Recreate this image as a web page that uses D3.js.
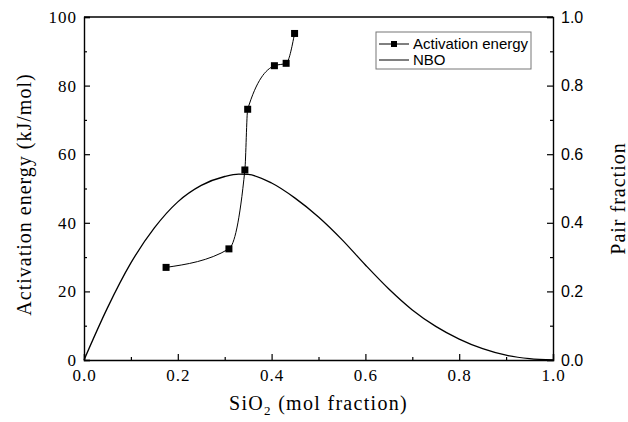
<!DOCTYPE html>
<html>
<head>
<meta charset="utf-8">
<script src="https://cdn.jsdelivr.net/npm/d3@7"></script>
<style>
  body { margin: 0; background: #fff; }
  svg { display: block; }
</style>
</head>
<body>
<div id="chart"></div>
<script>
// Activation energy (left axis)
const eaSiO2 = [0.175, 0.309, 0.343, 0.349, 0.406, 0.431, 0.449];
const eaValues = [27.0, 32.4, 55.4, 73.1, 85.8, 86.5, 95.2];

// NBO pair fraction (right axis)
const nboSiO2 = [0, 0.05, 0.10, 0.15, 0.20, 0.25, 0.30, 0.33, 0.35, 0.40, 0.45, 0.50, 0.55, 0.60, 0.65, 0.70, 0.75, 0.80, 0.85, 0.90, 0.95, 1.0];
const nboFraction = [0, 0.152, 0.283, 0.385, 0.461, 0.509, 0.535, 0.542, 0.541, 0.516, 0.472, 0.417, 0.351, 0.277, 0.207, 0.146, 0.098, 0.061, 0.033, 0.014, 0.004, 0];

// tick labels
const xTickValues = [0, 0.2, 0.4, 0.6, 0.8, 1.0];
const xTickLabels = ["0.0", "0.2", "0.4", "0.6", "0.8", "1.0"];
const yLeftTicks = [0, 20, 40, 60, 80, 100];
const yRightTicks = [0, 0.2, 0.4, 0.6, 0.8, 1.0];
const yRightLabels = ["0.0", "0.2", "0.4", "0.6", "0.8", "1.0"];

const W = 628, H = 422;
const margin = { top: 17, right: 75, bottom: 62, left: 84 };
const width = W - margin.left - margin.right,
      height = H - margin.top - margin.bottom;

const svg = d3.select("#chart").append("svg")
    .attr("width", W)
    .attr("height", H);

const g = svg.append("g")
    .attr("transform", `translate(${margin.left},${margin.top})`);

const x = d3.scaleLinear().domain([0, 1]).range([0, width]);
const yL = d3.scaleLinear().domain([0, 100]).range([height, 0]);
const yR = d3.scaleLinear().domain([0, 1]).range([height, 0]);

const serif = "Liberation Serif";
const sans = "Liberation Sans";

// minor ticks (inward)
const minorX = d3.range(0.1, 1, 0.2);
g.append("g")
    .attr("transform", `translate(0,${height})`)
    .call(d3.axisBottom(x).tickValues(minorX).tickSize(-3).tickFormat(""))
    .call(a => a.select(".domain").remove());
g.append("g")
    .call(d3.axisLeft(yL).tickValues(d3.range(10, 100, 20)).tickSize(-3).tickFormat(""))
    .call(a => a.select(".domain").remove());
g.append("g")
    .attr("transform", `translate(${width},0)`)
    .call(d3.axisRight(yR).tickValues(d3.range(0.1, 1, 0.2)).tickSize(-3).tickFormat(""))
    .call(a => a.select(".domain").remove());

// major axes
const xAxis = g.append("g")
    .attr("transform", `translate(0,${height})`)
    .call(d3.axisBottom(x).tickValues(xTickValues).tickSize(-6).tickPadding(9)
        .tickFormat((d, i) => xTickLabels[i]))
    .attr("font-family", serif)
    .attr("font-size", 17);
xAxis.selectAll("text")
    .style("letter-spacing", "1px")
    .attr("fill", "#000");

const yAxisL = g.append("g")
    .call(d3.axisLeft(yL).tickValues(yLeftTicks).tickSize(-6).tickPadding(7))
    .attr("font-family", serif)
    .attr("font-size", 17);
yAxisL.selectAll("text")
    .style("letter-spacing", "1px")
    .attr("fill", "#000");

const yAxisR = g.append("g")
    .attr("transform", `translate(${width},0)`)
    .call(d3.axisRight(yR).tickValues(yRightTicks).tickSize(-6).tickPadding(8)
        .tickFormat((d, i) => yRightLabels[i]))
    .attr("font-family", sans)
    .attr("font-size", 16);
yAxisR.selectAll("text")
    .attr("fill", "#000");

g.selectAll(".domain").attr("stroke-width", 1.4);
g.selectAll(".tick line").attr("stroke-width", 1.2);

// top frame line
g.append("line")
    .attr("x1", 0).attr("x2", width).attr("y1", 0).attr("y2", 0)
    .attr("stroke", "#000").attr("stroke-width", 1.4);

// NBO curve
const nboData = nboSiO2.map((v, i) => ({ x: v, y: nboFraction[i] }));
g.append("path")
    .datum(nboData)
    .attr("fill", "none")
    .attr("stroke", "#000")
    .attr("stroke-width", 1.3)
    .attr("d", d3.line().x(d => x(d.x)).y(d => yR(d.y)).curve(d3.curveMonotoneX));

// activation energy
const eaData = eaSiO2.map((v, i) => ({ x: v, y: eaValues[i] }));
g.append("path")
    .datum(eaData)
    .attr("fill", "none")
    .attr("stroke", "#000")
    .attr("stroke-width", 1)
    .attr("d", d3.line().x(d => x(d.x)).y(d => yL(d.y)).curve(d3.curveMonotoneX));

const ms = 7;
g.selectAll(".pt")
    .data(eaData)
    .enter()
    .append("rect")
    .attr("class", "pt")
    .attr("x", d => x(d.x) - ms / 2)
    .attr("y", d => yL(d.y) - ms / 2)
    .attr("width", ms)
    .attr("height", ms)
    .attr("fill", "#000");

// legend
const lg = svg.append("g").attr("transform", "translate(376,32)");
lg.append("rect")
    .attr("width", 155).attr("height", 37)
    .attr("fill", "#fff").attr("stroke", "#777").attr("stroke-width", 1);
lg.append("line").attr("x1", 3).attr("x2", 33).attr("y1", 12).attr("y2", 12)
    .attr("stroke", "#000").attr("stroke-width", 1);
lg.append("rect").attr("x", 15).attr("y", 9).attr("width", 6).attr("height", 6).attr("fill", "#000");
lg.append("line").attr("x1", 3).attr("x2", 33).attr("y1", 28).attr("y2", 28)
    .attr("stroke", "#000").attr("stroke-width", 1);
lg.append("text").attr("x", 37).attr("y", 17)
    .style("font-family", sans).style("font-size", "15px").text("Activation energy");
lg.append("text").attr("x", 37).attr("y", 33)
    .style("font-family", sans).style("font-size", "15px").text("NBO");

// axis titles
const xt = svg.append("text")
    .attr("x", margin.left + width / 2)
    .attr("y", 410)
    .attr("text-anchor", "middle")
    .style("font-family", serif)
    .style("font-size", "20px")
    .style("letter-spacing", "1.3px");
xt.append("tspan").text("SiO");
xt.append("tspan").attr("dy", 5).style("font-size", "13px").text("2");
xt.append("tspan").attr("dy", -5).text(" (mol fraction)");

svg.append("text")
    .attr("transform", `translate(31,${margin.top + height / 2 + 6}) rotate(-90)`)
    .attr("text-anchor", "middle")
    .style("font-family", serif)
    .style("font-size", "20px")
    .style("letter-spacing", "1px")
    .text("Activation energy (kJ/mol)");

svg.append("text")
    .attr("transform", `translate(625,${margin.top + height / 2 + 10}) rotate(-90)`)
    .attr("text-anchor", "middle")
    .style("font-family", serif)
    .style("font-size", "20px")
    .style("letter-spacing", "1px")
    .text("Pair fraction");
</script>
</body>
</html>
